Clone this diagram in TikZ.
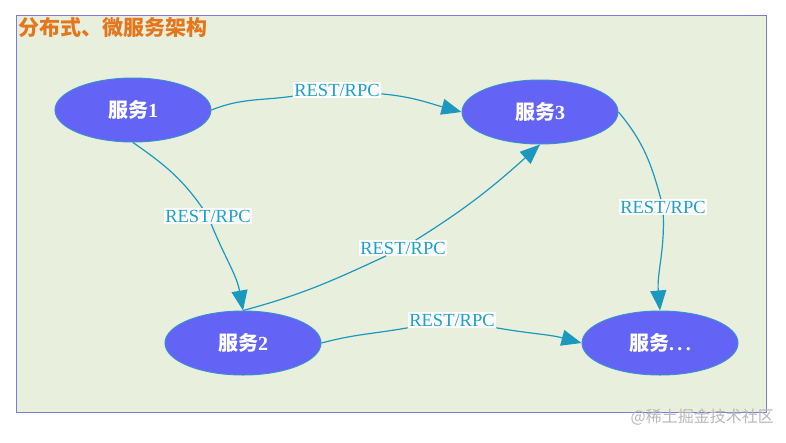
\documentclass[tikz,border=0pt]{standalone}
\usepackage{fontspec}
\setmainfont{Liberation Serif}
\newfontfamily\cjk{Noto Sans CJK SC}
\usetikzlibrary{arrows.meta,shapes.geometric}
\definecolor{bgpanel}{HTML}{E9EFDD}
\definecolor{framec}{HTML}{7B7BD8}
\definecolor{titlec}{HTML}{E4761E}
\definecolor{svcfill}{HTML}{6363F5}
\definecolor{svcedge}{HTML}{3A8FD0}
\definecolor{linkc}{HTML}{1B98BE}
\definecolor{labc}{HTML}{1EA0C8}
\tikzset{
  svc/.style={ellipse, fill=svcfill, draw=svcedge, line width=1pt,
    minimum width=156pt, minimum height=64pt, inner sep=0pt,
    text=white, font=\fontsize{20}{22}\selectfont\bfseries},
  lab/.style={fill=white, text=labc, inner sep=1.5pt,
    font=\fontsize{18.5}{20}\selectfont},
  link/.style={draw=linkc, line width=1.2pt},
  linka/.style={link, -{Triangle[length=20pt,width=16pt]}},
}
\begin{document}
\begin{tikzpicture}[x=1pt,y=1pt]
\useasboundingbox (0,0) rectangle (786,-442);
\fill[white] (0,0) rectangle (786,-442);
\draw[fill=bgpanel, draw=framec, line width=1pt] (16,-15) rectangle (766,-412);
\node[anchor=west, text=titlec, font=\cjk\fontsize{21}{23}\selectfont\bfseries, inner sep=0pt] (title) at (18,-28) {分布式、微服务架构};
\node[anchor=east, text=black!28, font=\cjk\fontsize{16}{18}\selectfont, inner sep=0pt] (wm) at (774,-417) {@稀土掘金技术社区};

\node[svc] (s1) at (133,-110) {{\cjk\bfseries 服务}1};
\node[svc] (s3) at (540,-112) {{\cjk\bfseries 服务}3};
\node[svc] (s2) at (243,-343) {{\cjk\bfseries 服务}2};
\node[svc] (s4) at (660,-343) {{\cjk\bfseries 服务}.\,.\,.};

\node[lab] (l1) at (337,-90) {REST/RPC};
\node[lab] (l2) at (208,-216) {REST/RPC};
\node[lab] (l3) at (403,-248) {REST/RPC};
\node[lab] (l4) at (663,-207) {REST/RPC};
\node[lab] (l5) at (452,-320) {REST/RPC};

\draw[link] (s1.east) to[out=22,in=188] (l1);
\draw[linka] (l1) to[out=-5,in=165] (s3.west);

\draw[link] (s1.south) to[out=-35,in=125] (l2);
\draw[linka] (l2) to[out=-68,in=100] (s2.north);

\draw[link] (s2.north) to[out=15,in=205] (l3);
\draw[linka] (l3) to[out=32,in=-138] (s3.south);

\draw[link] (s3.east) to[out=-50,in=105] (l4);
\draw[linka] (l4) to[out=-88,in=95] (s4.north);

\draw[link] (s2.east) to[out=15,in=190] (l5);
\draw[linka] (l5) to[out=-10,in=165] (s4.west);
\end{tikzpicture}
\end{document}
